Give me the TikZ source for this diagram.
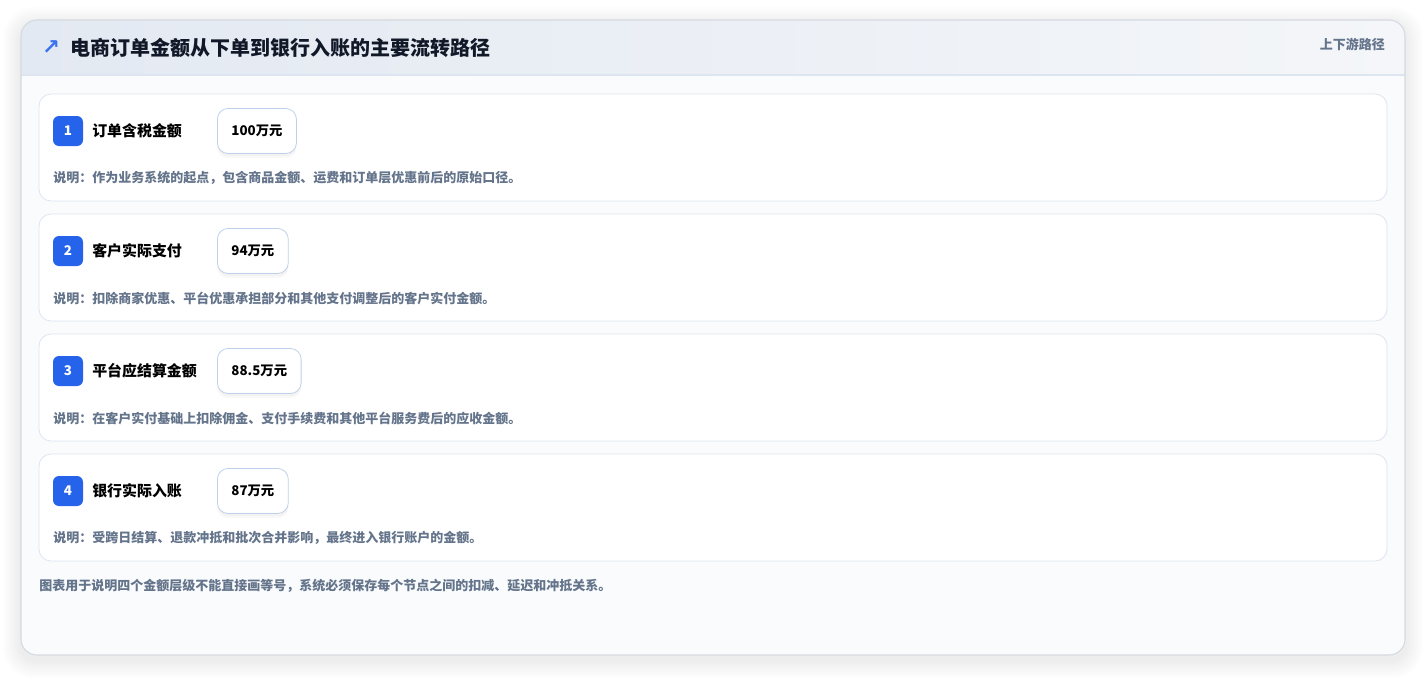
\documentclass[tikz,border=0pt]{standalone}
\usepackage{fontspec}
\setmainfont{Noto Sans CJK SC}
\newfontfamily\symfont{DejaVu Sans}
\usetikzlibrary{positioning}

\definecolor{cardline}{HTML}{D5DAE1}
\definecolor{headl}{HTML}{E3E9F2}
\definecolor{headr}{HTML}{F4F6F9}
\definecolor{headline}{HTML}{DCE5F0}
\definecolor{bodybg}{HTML}{F9FBFD}
\definecolor{rowline}{HTML}{DCE5F1}
\definecolor{badgeblue}{HTML}{2563EB}
\definecolor{valline}{HTML}{BFD1EA}
\definecolor{inktext}{HTML}{111827}
\definecolor{mutetext}{HTML}{64748B}

\tikzset{
  rowbox/.style={draw=rowline, fill=white, rounded corners=9pt, line width=0.6pt},
  badge/.style={fill=badgeblue, text=white, rounded corners=4.5pt, minimum size=22.5pt, inner sep=0pt, font=\bfseries\fontsize{10}{12}\selectfont},
  steplabel/.style={anchor=west, inner sep=0pt, text=black, font=\bfseries\fontsize{11.2}{13}\selectfont},
  valbox/.style={anchor=west, draw=valline, fill=white, rounded corners=8pt, minimum height=33.75pt, inner xsep=10.5pt, line width=0.6pt, font=\bfseries\fontsize{10}{12}\selectfont,
    preaction={fill=black, opacity=0.025, transform canvas={yshift=-3.5pt}},
    preaction={fill=black, opacity=0.025, transform canvas={yshift=-2pt}}},
  note/.style={anchor=west, inner sep=0pt, text=mutetext, font=\bfseries\fontsize{9.75}{12}\selectfont},
}

\begin{document}
\begin{tikzpicture}[x=0.75pt, y=-0.75pt]
    \useasboundingbox [fill=white] (0,0) rectangle (1426,676);
    % outer card with soft shadow
    \foreach \s in {2,4,...,18}
        \fill [black, opacity=0.009, rounded corners=12pt+\s*0.6pt] (21-\s,20-\s+5) rectangle (1405+\s,655+\s+5);
    \begin{scope}
        \clip [rounded corners=12pt] (21,20) rectangle (1405,655);
        \fill [bodybg] (21,75) rectangle (1405,655);
        \shade [left color=headl, right color=headr] (21,20) rectangle (1405,75);
        \draw [headline, line width=0.8pt] (21,75) -- (1405,75);
    \end{scope}
    \draw [cardline, line width=0.8pt, rounded corners=12pt] (21,20) rectangle (1405,655);

    % header
    \node [text=badgeblue!90!white, font=\symfont\bfseries\fontsize{16}{16}\selectfont] (icon) at (51,48) {↗};
    \node [anchor=west, inner sep=0pt, text=inktext, font=\bfseries\fontsize{15}{18}\selectfont] (title) at (70,48) {电商订单金额从下单到银行入账的主要流转路径};
    \node [anchor=east, inner sep=0pt, text=mutetext, font=\bfseries\fontsize{9.75}{12}\selectfont] (tag) at (1385,44) {上下游路径};

    % step 1
    \draw [rowbox] (39,94) rectangle (1387,201);
    \node [badge] (b1) at (68,131) {1};
    \node [steplabel] (l1) at (92,131) {订单含税金额};
    \node [valbox] (v1) at (217,131) {100万元};
    \node [note] (n1) at (53,178) {说明：作为业务系统的起点，包含商品金额、运费和订单层优惠前后的原始口径。};

    % step 2
    \draw [rowbox] (39,214) rectangle (1387,321);
    \node [badge] (b2) at (68,251) {2};
    \node [steplabel] (l2) at (92,251) {客户实际支付};
    \node [valbox] (v2) at (217,251) {94万元};
    \node [note] (n2) at (53,298) {说明：扣除商家优惠、平台优惠承担部分和其他支付调整后的客户实付金额。};

    % step 3
    \draw [rowbox] (39,334) rectangle (1387,441);
    \node [badge] (b3) at (68,371) {3};
    \node [steplabel] (l3) at (92,371) {平台应结算金额};
    \node [valbox] (v3) at (217,371) {88.5万元};
    \node [note] (n3) at (53,418) {说明：在客户实付基础上扣除佣金、支付手续费和其他平台服务费后的应收金额。};

    % step 4
    \draw [rowbox] (39,454) rectangle (1387,561);
    \node [badge] (b4) at (68,491) {4};
    \node [steplabel] (l4) at (92,491) {银行实际入账};
    \node [valbox] (v4) at (217,491) {87万元};
    \node [note] (n4) at (53,538) {说明：受跨日结算、退款冲抵和批次合并影响，最终进入银行账户的金额。};

    % footer
    \node [note] (foot) at (39,586) {图表用于说明四个金额层级不能直接画等号，系统必须保存每个节点之间的扣减、延迟和冲抵关系。};
\end{tikzpicture}
\end{document}
